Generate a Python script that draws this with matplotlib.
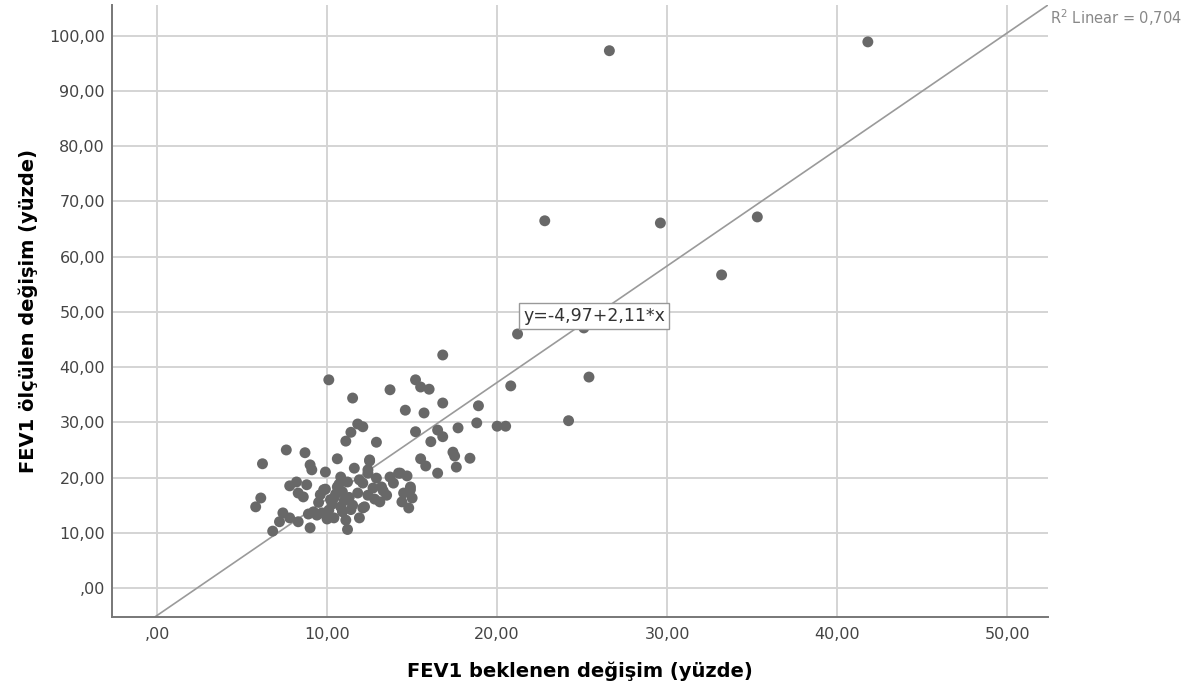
import numpy as np
import matplotlib
matplotlib.use("Agg")
import matplotlib.pyplot as plt
from matplotlib.ticker import FuncFormatter

expected = [26.6, 41.8, 22.8, 29.6, 35.3, 33.2, 25.1, 21.2, 16.8, 20.8, 25.4, 24.2,
            20.0, 20.5, 15.2, 15.5, 16.0, 14.6, 15.7, 16.8, 18.9, 18.8, 15.2, 16.5,
            16.8, 16.1, 17.7, 17.4, 17.5, 17.6, 18.4, 15.5, 15.8, 16.5, 14.3, 14.7,
            14.9, 13.7, 12.1, 12.9, 10.1, 11.5, 11.8, 11.4, 11.1, 7.6, 8.7, 9.0,
            9.1, 6.2, 10.6, 9.9, 12.5, 7.8, 8.2, 8.8, 8.3, 8.6, 6.1, 5.8,
            7.4, 7.8, 7.2, 6.8, 9.0, 8.3, 9.2, 9.7, 10.1, 10.4, 10.6, 10.8,
            11.2, 10.9, 11.6, 11.9, 11.8, 11.5, 10.8, 10.4, 11.1, 11.9, 11.2, 12.4,
            12.2, 12.5, 12.4, 12.1, 12.7, 13.2, 13.7, 14.2, 13.9, 14.9, 14.5, 15.0,
            14.4, 14.8, 13.1, 13.5, 12.4, 12.1, 9.5, 9.8, 10.2, 10.0, 9.4, 10.5,
            11.0, 10.7, 9.6, 8.9, 11.4, 12.8, 10.3, 11.3, 9.9, 12.9, 13.3, 10.9]
measured = [97.3, 98.9, 66.5, 66.1, 67.2, 56.7, 47.1, 46.0, 42.2, 36.6, 38.2, 30.3,
            29.3, 29.3, 37.7, 36.4, 36.0, 32.2, 31.7, 33.5, 33.0, 29.9, 28.3, 28.6,
            27.4, 26.5, 29.0, 24.6, 23.9, 21.9, 23.5, 23.4, 22.1, 20.8, 20.8, 20.3,
            18.3, 35.9, 29.2, 26.4, 37.7, 34.4, 29.7, 28.2, 26.6, 25.0, 24.5, 22.3,
            21.4, 22.5, 23.4, 21.0, 23.2, 18.5, 19.2, 18.7, 17.2, 16.5, 16.3, 14.7,
            13.6, 12.7, 12.0, 10.3, 10.9, 12.0, 13.8, 13.6, 14.1, 16.3, 18.3, 20.1,
            19.2, 17.4, 21.7, 19.6, 17.2, 15.0, 14.7, 12.7, 12.3, 12.7, 10.6, 21.4,
            14.7, 23.0, 20.8, 19.0, 18.1, 18.3, 20.1, 20.8, 19.0, 17.8, 17.2, 16.3,
            15.6, 14.5, 15.6, 16.8, 16.8, 14.5, 15.5, 17.8, 16.0, 12.5, 13.2, 17.0,
            15.8, 18.8, 16.9, 13.4, 14.2, 16.1, 15.2, 16.4, 17.9, 19.9, 17.6, 13.8]

intercept = -4.97
slope = 2.11
r2_text = "R$^2$ Linear = 0,704"
fit_label = "y=-4,97+2,11*x"

fig = plt.figure(figsize=(11.94, 6.96), dpi=100)
ax = fig.add_axes([0.0938, 0.1135, 0.784, 0.8795])

ax.set_xlim(-2.65, 52.4)
ax.set_ylim(-5.25, 105.6)
ax.set_xticks(np.arange(0, 51, 10))
ax.set_yticks(np.arange(0, 101, 10))
ax.grid(True, color="#d4d4d4", linewidth=1.4)
ax.set_axisbelow(True)

fmt = FuncFormatter(lambda v, p: ",00" if v == 0 else f"{v:.2f}".replace(".", ","))
ax.xaxis.set_major_formatter(fmt)
ax.yaxis.set_major_formatter(fmt)
ax.tick_params(length=0, labelsize=11.5, labelcolor="#444444")
ax.tick_params(axis="y", pad=5)
ax.tick_params(axis="x", pad=7)

for s in ["top", "right"]:
    ax.spines[s].set_visible(False)
for s in ["left", "bottom"]:
    ax.spines[s].set_color("#777777")
    ax.spines[s].set_linewidth(1.4)

xs = np.array([-2.65, 52.4])
ax.plot(xs, intercept + slope * xs, color="#9a9a9a", linewidth=1.2, zorder=2)

ax.scatter(expected, measured, s=62, color="#686868", edgecolors="none", zorder=3)

ax.text(25.7, 49.3, fit_label, fontsize=12.5, color="#333333", ha="center", va="center",
        bbox=dict(boxstyle="square,pad=0.22", facecolor="white", edgecolor="#999999", linewidth=1),
        zorder=4)

fig.text(0.879, 0.975, r2_text, fontsize=10.5, color="#888888", ha="left", va="center")

ax.set_xlabel("FEV1 beklenen değişim (yüzde)", fontsize=14, fontweight="bold", labelpad=14)
ax.set_ylabel("FEV1 ölçülen değişim (yüzde)", fontsize=14, fontweight="bold", labelpad=8)

fig.savefig("out.png", dpi=100, facecolor="white")
